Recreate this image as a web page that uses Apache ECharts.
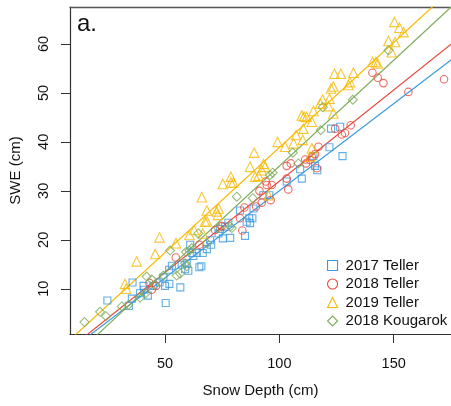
<!DOCTYPE html>
<html>
<head>
<meta charset="utf-8">
<script src="https://cdn.jsdelivr.net/npm/echarts@6/dist/echarts.min.js"></script>
<style>html,body{margin:0;padding:0;background:#fff;overflow:hidden}#c{width:451px;height:406px}</style>
</head>
<body>
<div id="c"></div>
<script>
const xTicks = [50, 100, 150];
const yTicks = [10, 20, 30, 40, 50, 60];
const seriesNames = ['2017 Teller', '2018 Teller', '2019 Teller', '2018 Kougarok'];
const seriesColors = ['#3b9ae0', '#e8473c', '#f8b800', '#80ad5e'];
const seriesSymbols = ['rect', 'circle', 'triangle', 'diamond'];
const seriesSizes = [7, 7.5, 9.5, 9];

const teller2017 = [
[24.8,7.6],[35.8,11.3],[35.5,8.0],[34.2,6.5],[39.1,9.1],[40.6,10.6],[40.9,9.8],[42.5,8.6],[44.9,10.6],[47.6,11.3],
[49.3,12.3],[50.0,10.6],[50.3,7.1],[51.9,11.0],[51.8,13.9],[53.0,14.7],[56.7,10.3],[57.3,14.9],[58.8,14.0],[59.5,15.2],
[60.2,13.7],[61.0,19.0],[61.7,17.3],[62.4,16.7],[63.9,17.3],[65.0,14.4],[65.9,14.6],[66.5,17.3],[68.3,18.1],[69.7,19.9],
[70.2,19.0],[73.4,21.3],[74.1,22.2],[75.3,20.3],[76.3,22.7],[78.5,20.4],[77.7,23.5],[82.8,26.0],[85.0,20.8],[85.7,23.7],
[86.8,24.4],[87.2,23.4],[88.2,24.4],[88.7,26.4],[93.0,29.1],[95.6,29.1],[103.2,31.9],[109.1,34.4],[109.8,32.5],[114.9,37.1],
[115.6,35.1],[116.6,34.2],[121.9,38.9],[122.6,42.7],[126.6,43.1],[127.6,37.1]
];
const teller2018 = [
[43.2,11.2],[44.2,9.8],[46.1,10.6],[54.7,16.4],[65.0,19.0],[71.9,22.0],[74.8,22.8],[82.8,24.4],[83.8,21.9],[84.7,26.6],
[89.8,26.8],[91.3,30.0],[92.3,27.6],[94.1,31.9],[94.5,31.2],[96.2,28.1],[96.7,31.2],[103.2,35.1],[103.2,32.5],[103.9,30.3],
[105.0,35.6],[111.3,36.4],[111.7,35.6],[113.4,36.3],[114.2,36.9],[115.6,37.5],[117.1,39.0],[116.4,34.6],[124.4,42.7],[127.3,41.5],
[128.7,41.8],[131.2,43.4],[140.7,54.1],[143.0,53.1],[145.5,52.0],[156.4,50.2],[172.0,52.8]
];
const teller2019 = [
[32.5,11.0],[33.0,10.0],[37.6,15.6],[45.7,17.1],[47.6,20.5],[54.8,19.3],[60.7,21.0],[62.7,22.0],[66.1,28.7],[66.5,21.3],
[67.5,23.7],[68.3,26.0],[68.3,23.8],[72.6,25.8],[73.4,26.4],[73.1,25.1],[75.3,31.4],[78.8,32.9],[78.8,31.7],[79.9,31.7],
[87.2,34.9],[89.0,37.8],[89.4,32.9],[90.9,33.1],[92.3,34.2],[93.1,35.5],[93.8,34.9],[95.2,29.1],[99.2,40.0],[102.5,39.0],
[106.2,39.7],[107.3,41.4],[109.8,45.4],[110.8,45.2],[111.9,45.1],[110.5,42.7],[110.2,40.4],[114.2,44.1],[114.9,46.3],[114.2,38.7],
[113.4,37.0],[117.8,47.8],[118.9,48.6],[121.5,47.3],[121.9,48.8],[122.6,50.9],[123.6,51.3],[123.6,45.8],[124.1,53.9],[126.9,53.9],
[130.2,51.6],[130.9,52.2],[132.4,54.1],[140.8,56.3],[142.2,56.3],[143.0,56.0],[147.7,60.6],[149.1,58.3],[150.6,60.4],[150.3,64.5],
[152.5,63.3],[154.3,62.4]
];
const kougarok2018 = [
[14.8,3.2],[21.6,5.3],[24.2,4.4],[31.1,6.4],[34.0,6.7],[39.1,8.2],[42.0,12.5],[41.6,9.1],[44.2,11.9],[45.4,10.8],
[49.3,12.7],[52.2,17.8],[55.1,12.7],[56.6,13.1],[58.8,15.2],[59.2,17.5],[59.5,14.6],[60.7,17.8],[61.7,18.3],[64.6,21.3],
[68.3,19.3],[73.4,22.4],[78.5,22.7],[79.2,22.4],[81.4,28.8],[88.4,28.5],[95.9,33.2],[97.1,33.7],[105.9,37.8],[108.3,35.6],
[118.1,42.4],[119.0,47.1],[132.1,48.6],[147.7,58.7]
];
const fitSlopes = [0.3558, 0.3726, 0.4290, 0.4326];
const fitIntercepts = [-5.56, -5.31, -4.05, -8.20];

const xMin = 8.46, xMax = 175.05, yMin = 0.77, yMax = 67.54;
const allData = [teller2017, teller2018, teller2019, kougarok2018];
const font = 'Liberation Sans, Arial, Helvetica, sans-serif';

const series = [];
allData.forEach((d, i) => {
  series.push({
    name: seriesNames[i], type: 'line', data: [[0, fitIntercepts[i]], [200, fitIntercepts[i] + fitSlopes[i] * 200]],
    showSymbol: false, symbol: 'none', lineStyle: { color: seriesColors[i], width: 1.2 }, clip: true, silent: true,
    legendHoverLink: false, z: 2, tooltip: { show: false }
  });
});
allData.forEach((d, i) => {
  series.push({
    name: seriesNames[i], type: 'scatter', data: d, symbol: seriesSymbols[i], symbolSize: seriesSizes[i],
    itemStyle: { color: 'rgba(255,255,255,0)', borderColor: seriesColors[i], borderWidth: 1.1 }, z: 3
  });
});

const chart = echarts.init(document.getElementById('c'), null, { renderer: 'canvas' });
chart.setOption({
  animation: false,
  textStyle: { fontFamily: font },
  grid: { left: 70, top: 7, right: 0, height: 327, show: false },
  xAxis: [{
    type: 'value', min: xMin, max: xMax,
    name: 'Snow Depth (cm)', nameLocation: 'middle', nameGap: 49,
    nameTextStyle: { fontSize: 15, color: '#111', fontFamily: font },
    axisLine: { show: true, lineStyle: { color: '#333', width: 1.2 } },
    axisTick: { show: true, length: 9, lineStyle: { color: '#333' }, customValues: xTicks },
    axisLabel: { fontSize: 14.5, color: '#111', margin: 22, customValues: xTicks, fontFamily: font },
    splitLine: { show: false }
  }, {
    type: 'value', position: 'top', min: xMin, max: xMax,
    axisLine: { show: true, lineStyle: { color: '#555', width: 1.4 } },
    axisTick: { show: false }, axisLabel: { show: false }, splitLine: { show: false }
  }],
  yAxis: {
    type: 'value', min: yMin, max: yMax,
    name: 'SWE (cm)', nameLocation: 'middle', nameGap: 47, nameRotate: 90,
    nameTextStyle: { fontSize: 15, color: '#111', fontFamily: font },
    axisLine: { show: true, lineStyle: { color: '#333', width: 1.2 } },
    axisTick: { show: true, length: 9, lineStyle: { color: '#333' }, customValues: yTicks },
    axisLabel: { fontSize: 14.5, color: '#111', margin: 19, rotate: 90, customValues: yTicks, fontFamily: font },
    splitLine: { show: false }
  },
  legend: {
    orient: 'vertical', left: 322, top: 253, itemWidth: 10, itemHeight: 10, itemGap: 3.5,
    data: seriesNames.map((n, i) => ({ name: n, icon: seriesSymbols[i],
      itemStyle: { color: 'rgba(255,255,255,0)', borderColor: seriesColors[i], borderWidth: 1.1 } })),
    textStyle: { fontSize: 15, color: '#111', fontFamily: font, padding: [0, 0, 0, 3] },
    selectedMode: false
  },
  graphic: [{ type: 'text', left: 77, top: 12, style: { text: 'a.', font: '24px ' + font, fill: '#111' } }],
  series: series
});
</script>
</body>
</html>
